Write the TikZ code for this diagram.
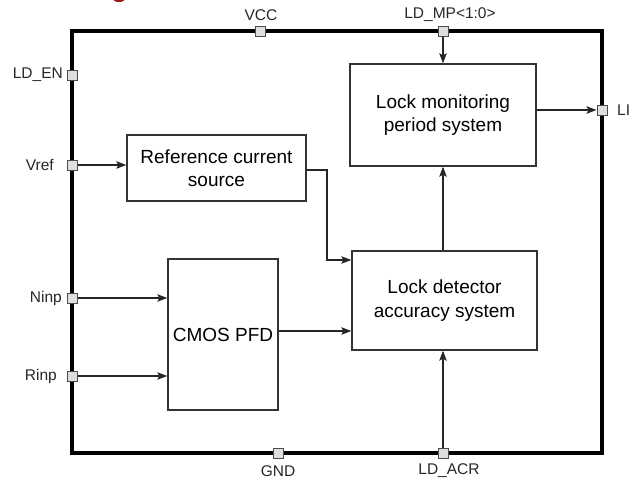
\documentclass[tikz,border=0pt]{standalone}
\usepackage{fontspec}
\setmainfont{Liberation Sans}
\usetikzlibrary{arrows.meta}
\begin{document}
\begin{tikzpicture}[x=1pt,y=-1pt,
  blk/.style={draw=black!80,line width=1.4pt,fill=white,align=center,inner sep=0pt,
    font=\fontsize{19}{23.5}\selectfont},
  port/.style={draw=black!70,line width=1pt,fill=black!13,minimum size=10pt,inner sep=0pt},
  lbl/.style={font=\fontsize{15.5}{18}\selectfont,inner sep=0pt,text=black!85},
  arr/.style={draw=black!85,line width=1.2pt,-{Stealth[length=10pt,width=7.5pt,inset=2pt]}},
  ln/.style={draw=black!85,line width=1.2pt}]
\useasboundingbox (0,0) rectangle (633,479);
% small red fragment at top edge
\begin{scope}
\clip (0,0) rectangle (633,479);
\fill[red!55!black!90] (119,-1) ellipse [x radius=6, y radius=3];
\end{scope}
% frame
\draw[line width=4.2pt,black] (72,31) rectangle (602,453);
% blocks
\node[blk,minimum width=186pt,minimum height=102pt] (mon) at (443,115) {Lock monitoring\\period system};
\node[blk,minimum width=179pt,minimum height=66pt] (ref) at (216.5,168) {Reference current\\source};
\node[blk,minimum width=185pt,minimum height=99pt] (det) at (444.5,300.5) {Lock detector\\accuracy system};
\node[blk,minimum width=110pt,minimum height=151pt] (pfd) at (223,334.5) {CMOS PFD};
% ports
\node[port] (pvcc) at (260,31) {};
\node[port] (pmp) at (443,31) {};
\node[port] (pli) at (602,110) {};
\node[port] (pen) at (72,75) {};
\node[port] (pvref) at (72,165) {};
\node[port] (pninp) at (72,298) {};
\node[port] (prinp) at (72,376) {};
\node[port] (pgnd) at (278,453) {};
\node[port] (pacr) at (443,453) {};
% labels
\node[lbl] (lvcc) at (261,15) {VCC};
\node[lbl] (lmp) at (450,15) {LD\_MP<1:0>};
\node[lbl,anchor=west] (lli) at (617,110) {LI};
\node[lbl,anchor=east] (len) at (63,75) {LD\_EN};
\node[lbl,anchor=east] (lvref) at (54,165) {Vref};
\node[lbl,anchor=east] (lninp) at (62,298) {Ninp};
\node[lbl,anchor=east] (lrinp) at (57,376) {Rinp};
\node[lbl] (lgnd) at (278,471) {GND};
\node[lbl] (lacr) at (449,471) {LD\_ACR};
% connectors
\draw[arr] (pmp.south) -- (pmp.south |- mon.north);
\draw[arr] (mon.east |- pli) -- (pli.west);
\draw[arr] (pvref.east) -- (pvref.east -| ref.west);
\draw[arr] (pninp.east) -- (pninp.east -| pfd.west);
\draw[arr] (prinp.east) -- (prinp.east -| pfd.west);
\coordinate (bend) at (327,260);
\draw[arr] (ref.east |- 0,170) -| (bend) -- (bend -| det.west);
\draw[arr] (pfd.east |- 0,331) -- (det.west |- 0,331);
\draw[arr] (det.north -| pmp) -- (mon.south -| pmp);
\draw[arr] (pacr.north) -- (pacr.north |- det.south);
\end{tikzpicture}
\end{document}
